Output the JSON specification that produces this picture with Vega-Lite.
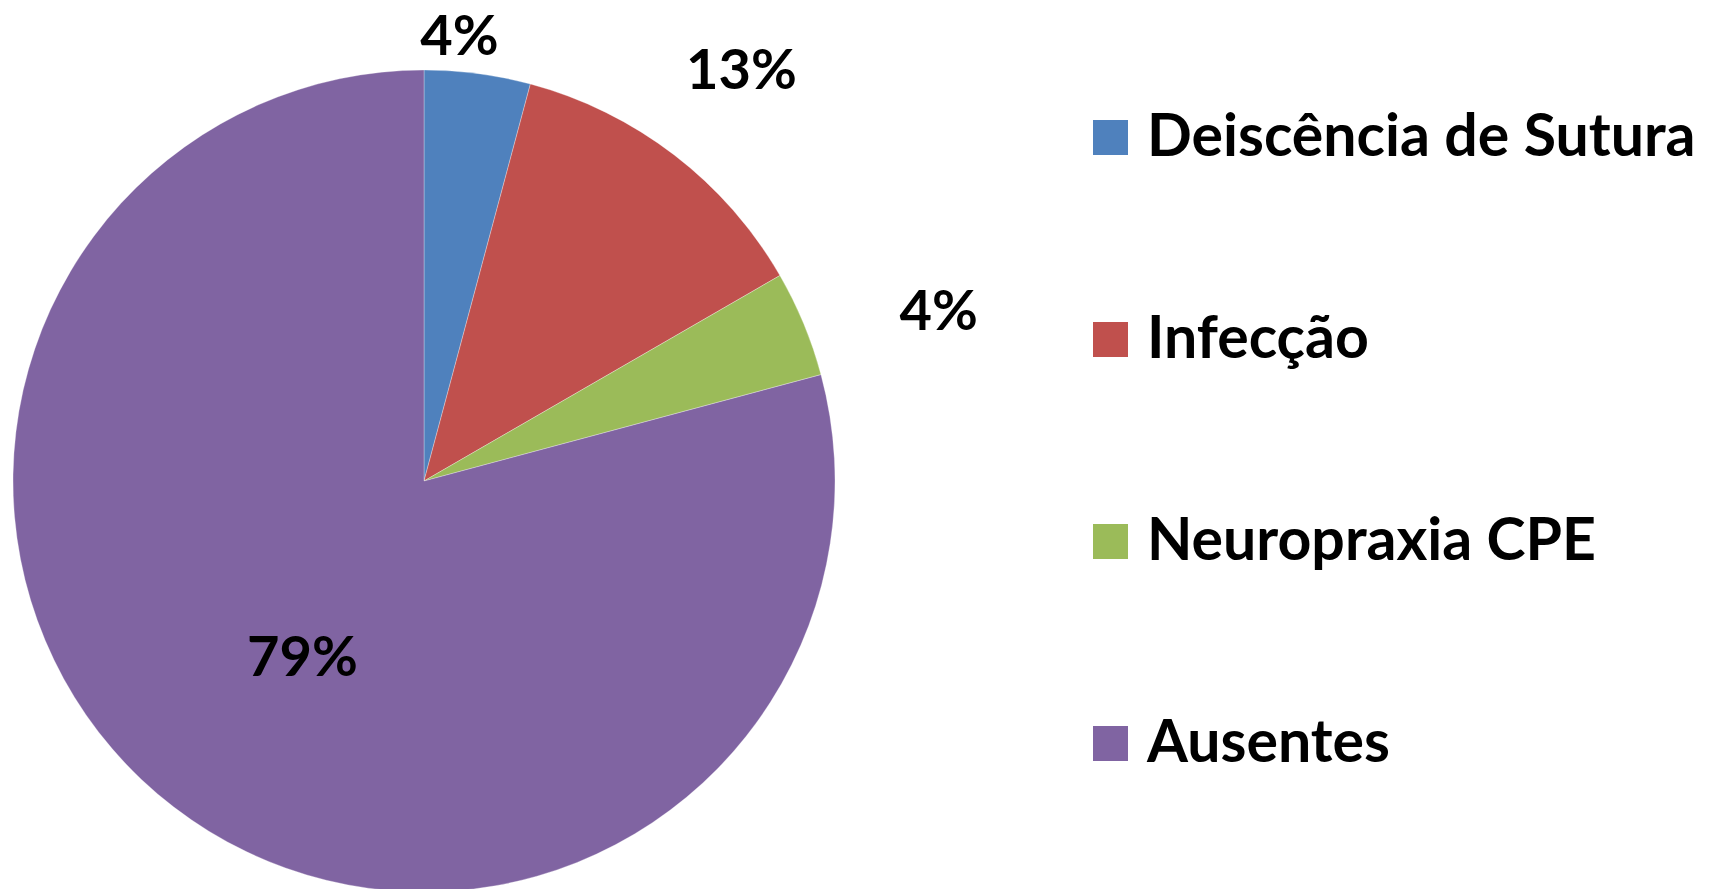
{
  "$schema": "https://vega.github.io/schema/vega-lite/v6.json",
  "width": 848,
  "height": 962,
  "autosize": {"type": "none"},
  "padding": {"left": 0, "top": 0, "right": 864, "bottom": 0},
  "background": "white",
  "config": {"view": {"stroke": null}},
  "data": {
    "values": [
      {"categoria": "Deiscência de Sutura", "n": 1, "ordem": 1, "rotulo": "4%"},
      {"categoria": "Infecção", "n": 3, "ordem": 2, "rotulo": "13%"},
      {"categoria": "Neuropraxia CPE", "n": 1, "ordem": 3, "rotulo": "4%"},
      {"categoria": "Ausentes", "n": 19, "ordem": 4, "rotulo": "79%"}
    ]
  },
  "encoding": {
    "theta": {"field": "n", "type": "quantitative", "stack": true},
    "order": {"field": "ordem", "type": "quantitative"}
  },
  "layer": [
    {
      "mark": {"type": "arc", "outerRadius": 411, "stroke": "white", "strokeWidth": 0.3},
      "encoding": {
        "color": {
          "field": "categoria",
          "type": "nominal",
          "sort": ["Deiscência de Sutura", "Infecção", "Neuropraxia CPE", "Ausentes"],
          "scale": {
            "domain": ["Deiscência de Sutura", "Infecção", "Neuropraxia CPE", "Ausentes"],
            "range": ["#4F81BD", "#C0504D", "#9BBB59", "#8064A2"]
          },
          "legend": {
            "orient": "right",
            "title": null,
            "offset": 125,
            "padding": 108,
            "symbolType": "square",
            "symbolSize": 1225,
            "symbolStrokeWidth": 0,
            "symbolOpacity": 1,
            "labelFont": "Lato",
            "labelFontWeight": "bold",
            "labelFontSize": 59,
            "labelColor": "black",
            "labelOffset": 7,
            "labelLimit": 1000,
            "rowPadding": 142
          }
        }
      }
    },
    {
      "mark": {"type": "text", "radius": 447, "dx": -23, "dy": 0, "font": "Lato", "fontWeight": "bold", "fontSize": 56, "color": "black", "align": "center", "baseline": "middle"},
      "encoding": {"text": {"condition": {"test": "datum.ordem == 1", "field": "rotulo"}, "value": ""}}
    },
    {
      "mark": {"type": "text", "radius": 518, "dx": 2, "dy": 2, "font": "Lato", "fontWeight": "bold", "fontSize": 56, "color": "black", "align": "center", "baseline": "middle"},
      "encoding": {"text": {"condition": {"test": "datum.ordem == 2", "field": "rotulo"}, "value": ""}}
    },
    {
      "mark": {"type": "text", "radius": 542, "dx": 14, "dy": 39, "font": "Lato", "fontWeight": "bold", "fontSize": 56, "color": "black", "align": "center", "baseline": "middle"},
      "encoding": {"text": {"condition": {"test": "datum.ordem == 3", "field": "rotulo"}, "value": ""}}
    },
    {
      "mark": {"type": "text", "radius": 216, "dx": 10, "dy": 7, "font": "Lato", "fontWeight": "bold", "fontSize": 56, "color": "black", "align": "center", "baseline": "middle"},
      "encoding": {"text": {"condition": {"test": "datum.ordem == 4", "field": "rotulo"}, "value": ""}}
    }
  ]
}
